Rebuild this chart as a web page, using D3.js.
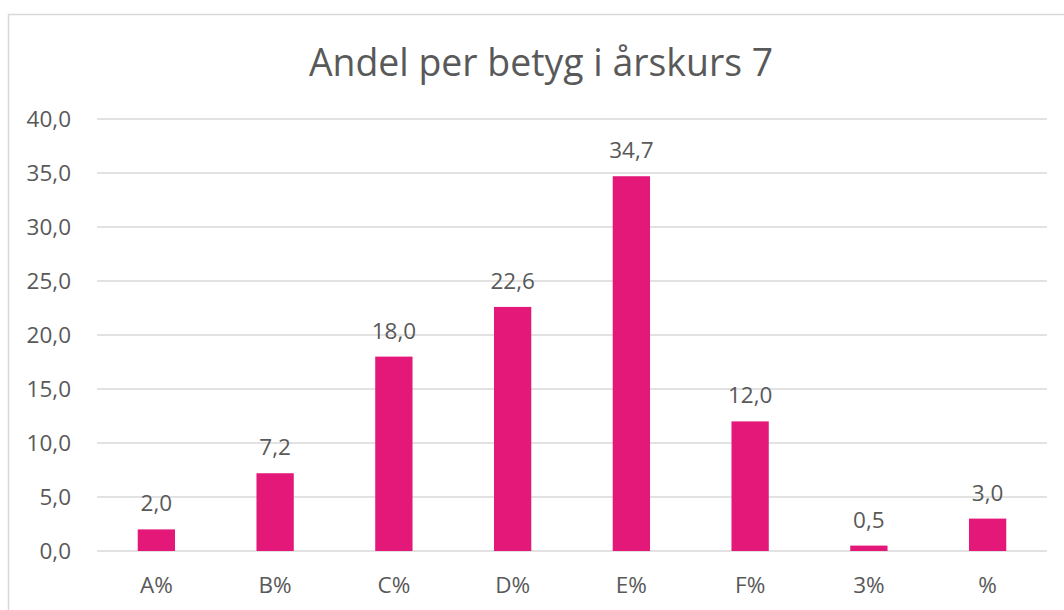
<!DOCTYPE html>
<html>
<head>
<meta charset="utf-8">
<script src="https://cdn.jsdelivr.net/npm/d3@7"></script>
<style>
  body { margin: 0; background: #fff; }
  text { font-family: "Open Sans", sans-serif; fill: #595959; }
</style>
</head>
<body>
<script>
// Read the width and height of the page.
const width = 1064;
const height = 610;

// data
const categories = ['A%', 'B%', 'C%', 'D%', 'E%', 'F%', '3%', '%'];
const values = [2.0, 7.2, 18.0, 22.6, 34.7, 12.0, 0.5, 3.0];
const yTicks = [0, 5, 10, 15, 20, 25, 30, 35, 40];
const title = 'Andel per betyg i årskurs 7';

const fmt = (d) => d.toFixed(1).replace('.', ',');

const svg = d3.select('body').append('svg').attr('width', width).attr('height', height);

// chart frame
svg.append('rect')
  .attr('x', 8.5).attr('y', 14.5)
  .attr('width', 1100).attr('height', 700)
  .attr('fill', 'white')
  .attr('stroke', '#d9d9d9')
  .attr('stroke-width', 1.5);

const x = d3.scaleBand().domain(categories).range([97, 1047]).paddingInner(0.686).paddingOuter(0.343);
const y = d3.scaleLinear().domain([0, 40]).range([551, 119]);

// title
svg.append('text')
  .attr('x', 541).attr('y', 76)
  .attr('text-anchor', 'middle')
  .attr('font-size', 37.4)
  .text(title);

// gridlines
svg.append('g')
  .selectAll('line')
  .data(yTicks)
  .join('line')
    .attr('x1', 97).attr('x2', 1047)
    .attr('y1', (d) => y(d)).attr('y2', (d) => y(d))
    .attr('stroke', '#d9d9d9')
    .attr('stroke-width', 1.5);

// y labels
svg.append('g')
  .selectAll('text')
  .data(yTicks)
  .join('text')
    .attr('x', 71)
    .attr('y', (d) => y(d))
    .attr('dy', '0.35em')
    .attr('text-anchor', 'end')
    .attr('font-size', 22.5)
    .text(fmt);

// bars
svg.append('g')
  .selectAll('rect')
  .data(values)
  .join('rect')
    .attr('x', (d, i) => x(categories[i]))
    .attr('y', (d) => y(d))
    .attr('width', x.bandwidth())
    .attr('height', (d) => y(0) - y(d))
    .attr('fill', '#e31878');

// value labels
svg.append('g')
  .selectAll('text')
  .data(values)
  .join('text')
    .attr('x', (d, i) => x(categories[i]) + x.bandwidth() / 2)
    .attr('y', (d) => y(d) - 18)
    .attr('text-anchor', 'middle')
    .attr('font-size', 22.5)
    .text(fmt);

// category labels
svg.append('g')
  .selectAll('text')
  .data(categories)
  .join('text')
    .attr('x', (d) => x(d) + x.bandwidth() / 2)
    .attr('y', 593)
    .attr('text-anchor', 'middle')
    .attr('font-size', 22.5)
    .text((d) => d);
</script>
</body>
</html>
